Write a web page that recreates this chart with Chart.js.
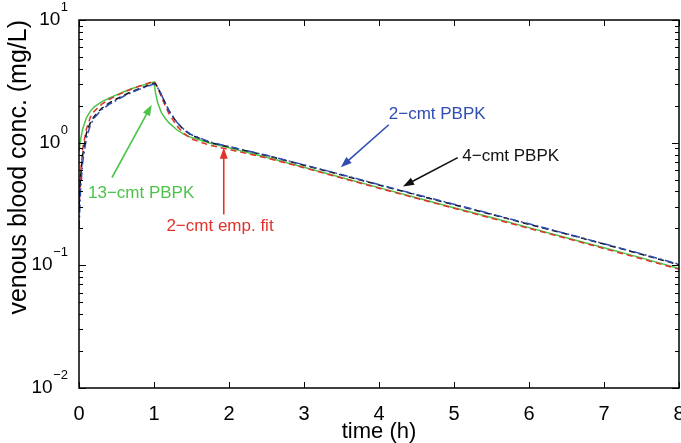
<!DOCTYPE html>
<html>
<head>
<meta charset="utf-8">
<script src="https://cdn.jsdelivr.net/npm/chart.js@4.4.1/dist/chart.umd.min.js"></script>
<style>
  html, body { margin: 0; padding: 0; background: #fff; }
</style>
</head>
<body>
<canvas id="conc" width="681" height="443"></canvas>
<script>
// time points (h)
const times = [0, 0.02, 0.05, 0.1, 0.15, 0.2, 0.3, 0.4, 0.5, 0.6, 0.7, 0.8, 0.9, 1.0,
    1.02, 1.05, 1.1, 1.15, 1.2, 1.3, 1.4, 1.5, 1.75, 2, 2.5, 3, 3.5, 4, 4.5, 5, 5.5, 6, 6.5, 7, 7.5, 8];

// venous blood conc. (mg/L)
const cmt13 = [0.85, 1.05, 1.3, 1.6, 1.8, 1.95, 2.15, 2.3, 2.45, 2.6, 2.75, 2.88, 3.0, 3.12,
    2.55, 2.1, 1.75, 1.58, 1.45, 1.28, 1.17, 1.1, 0.99, 0.91, 0.76, 0.63, 0.52, 0.43, 0.355, 0.295, 0.245, 0.203, 0.168, 0.139, 0.115, 0.094];
const empFit = [0.28, 0.55, 0.9, 1.3, 1.6, 1.8, 2.05, 2.25, 2.42, 2.58, 2.74, 2.88, 3.02, 3.18,
    3.05, 2.8, 2.35, 2.0, 1.72, 1.38, 1.19, 1.07, 0.95, 0.88, 0.75, 0.625, 0.515, 0.425, 0.352, 0.292, 0.242, 0.2, 0.166, 0.137, 0.113, 0.093];
const cmt2 = [0.2, 0.4, 0.7, 1.1, 1.38, 1.58, 1.85, 2.05, 2.22, 2.4, 2.56, 2.72, 2.86, 3.0,
    2.95, 2.8, 2.45, 2.1, 1.82, 1.48, 1.28, 1.16, 1.01, 0.93, 0.79, 0.66, 0.55, 0.455, 0.378, 0.315, 0.262, 0.218, 0.181, 0.15, 0.124, 0.102];
const cmt4 = [0.3, 0.52, 0.8, 1.2, 1.45, 1.63, 1.9, 2.1, 2.27, 2.44, 2.6, 2.75, 2.9, 3.05,
    3.0, 2.82, 2.45, 2.1, 1.82, 1.47, 1.27, 1.15, 1.0, 0.925, 0.785, 0.655, 0.545, 0.452, 0.375, 0.312, 0.26, 0.216, 0.18, 0.149, 0.123, 0.101];

// y ticks are powers of ten: base + exponent
const yTickValues = [0.01, 0.1, 1, 10];
const yTickExps = ['\u22122', '\u22121', '0', '1'];
const seriesNames = ['13\u2212cmt PBPK', '2\u2212cmt emp. fit', '2\u2212cmt PBPK', '4\u2212cmt PBPK'];

const FONT = '"Liberation Sans", Arial, Helvetica, sans-serif';
const GREEN = '#4cc44a', RED = '#e2332b', BLUE = '#2f4db3', BLACK = '#111111';

const pts = vals => vals.map((v, i) => ({ x: times[i], y: v }));

// annotation text + arrows, placed in data units
const notes = [
    { text: seriesNames[0], color: GREEN, tx: 0.12, ty: 0.39, align: 'left', from: [0.44, 0.52], to: [0.97, 2.04] },
    { text: seriesNames[1], color: RED, tx: 1.88, ty: 0.207, align: 'center', from: [1.93, 0.26], to: [1.93, 0.91] },
    { text: seriesNames[2], color: BLUE, tx: 4.13, ty: 1.69, align: 'left', from: [4.13, 1.4], to: [3.49, 0.63] },
    { text: seriesNames[3], color: BLACK, tx: 5.11, ty: 0.77, align: 'left', from: [5.05, 0.755], to: [4.32, 0.44] }
];

const framePlugin = {
    id: 'frame',
    afterDatasetsDraw(chart) {
        const ctx = chart.ctx;
        const { left, right, top, bottom } = chart.chartArea;
        const xs = chart.scales.x, ys = chart.scales.y;
        ctx.save();
        ctx.strokeStyle = '#000';
        ctx.lineWidth = 1.5;
        ctx.strokeRect(left, top, right - left, bottom - top);
        ctx.lineWidth = 1;
        ctx.beginPath();
        for (let t = 0; t <= 8; t++) {
            const px = Math.round(xs.getPixelForValue(t)) + 0.5;
            ctx.moveTo(px, bottom); ctx.lineTo(px, bottom - 6);
            ctx.moveTo(px, top); ctx.lineTo(px, top + 6);
        }
        for (let e = -2; e <= 1; e++) {
            for (let m = 1; m <= 9; m++) {
                const v = m * Math.pow(10, e);
                if (v > 10.0001) break;
                const py = Math.round(ys.getPixelForValue(v)) + 0.5;
                const len = m === 1 ? 7 : 4;
                ctx.moveTo(left, py); ctx.lineTo(left + len, py);
                ctx.moveTo(right, py); ctx.lineTo(right - len, py);
            }
        }
        ctx.stroke();

        // y tick labels 10^n with a raised exponent
        ctx.fillStyle = '#000';
        ctx.textBaseline = 'alphabetic';
        ctx.textAlign = 'right';
        yTickValues.forEach((v, i) => {
            const py = ys.getPixelForValue(v);
            const xr = left - 11;
            ctx.font = '13px ' + FONT;
            const ew = ctx.measureText(yTickExps[i]).width;
            ctx.fillText(yTickExps[i], xr, py - 9);
            ctx.font = '19px ' + FONT;
            ctx.fillText('10', xr - ew - 0.5, py + 5);
        });

        // annotations
        ctx.font = '17px ' + FONT;
        ctx.textBaseline = 'middle';
        notes.forEach(n => {
            ctx.fillStyle = n.color;
            ctx.strokeStyle = n.color;
            ctx.textAlign = n.align;
            ctx.fillText(n.text, xs.getPixelForValue(n.tx), ys.getPixelForValue(n.ty));
            const x0 = xs.getPixelForValue(n.from[0]), y0 = ys.getPixelForValue(n.from[1]);
            const x1 = xs.getPixelForValue(n.to[0]), y1 = ys.getPixelForValue(n.to[1]);
            const a = Math.atan2(y1 - y0, x1 - x0);
            const hl = 11, hw = 4;
            ctx.lineWidth = 1.6;
            ctx.beginPath();
            ctx.moveTo(x0, y0);
            ctx.lineTo(x1 - Math.cos(a) * hl * 0.8, y1 - Math.sin(a) * hl * 0.8);
            ctx.stroke();
            ctx.beginPath();
            ctx.moveTo(x1, y1);
            ctx.lineTo(x1 - Math.cos(a) * hl - Math.sin(a) * hw, y1 - Math.sin(a) * hl + Math.cos(a) * hw);
            ctx.lineTo(x1 - Math.cos(a) * hl + Math.sin(a) * hw, y1 - Math.sin(a) * hl - Math.cos(a) * hw);
            ctx.closePath();
            ctx.fill();
        });
        ctx.restore();
    }
};

const lineSet = (label, vals, color, dash) => ({
    label: label,
    data: pts(vals),
    borderColor: color,
    borderWidth: 1.5,
    borderDash: dash,
    pointRadius: 0,
    fill: false,
    tension: 0
});

new Chart(
    document.getElementById('conc'),
    {
        type: 'line',
        data: {
            datasets: [
                lineSet(seriesNames[2], cmt2, BLUE, [8, 3, 2, 3]),
                lineSet(seriesNames[3], cmt4, BLACK, [6, 4]),
                lineSet(seriesNames[1], empFit, RED, [6, 4]),
                lineSet(seriesNames[0], cmt13, GREEN, [])
            ]
        },
        options: {
            responsive: false,
            animation: false,
            devicePixelRatio: 1,
            layout: { padding: { top: 20, right: 2, left: 0, bottom: 0 } },
            plugins: {
                legend: { display: false },
                tooltip: { enabled: false }
            },
            scales: {
                x: {
                    type: 'linear',
                    min: 0,
                    max: 8,
                    grid: { display: false },
                    border: { display: false },
                    ticks: {
                        stepSize: 1,
                        padding: 6,
                        color: '#000',
                        font: { family: FONT, size: 20 },
                        maxRotation: 0
                    },
                    title: {
                        display: true,
                        text: 'time (h)',
                        color: '#000',
                        font: { family: FONT, size: 22, lineHeight: 1 },
                        padding: { top: 0, bottom: 0 }
                    },
                    afterFit(scale) {
                        scale.height = 55;
                        scale.paddingLeft = 0;
                        scale.paddingRight = 0;
                    }
                },
                y: {
                    type: 'logarithmic',
                    min: 0.01,
                    max: 10,
                    grid: { display: false },
                    border: { display: false },
                    afterBuildTicks(scale) {
                        scale.ticks = yTickValues.map(v => ({ value: v }));
                    },
                    ticks: { display: false },
                    title: {
                        display: true,
                        text: 'venous blood conc. (mg/L)',
                        align: 'end',
                        color: '#000',
                        font: { family: FONT, size: 25, lineHeight: 1 },
                        padding: { top: 7, bottom: 0 }
                    },
                    afterFit(scale) {
                        scale.width = 79;
                        scale.paddingTop = 0;
                        scale.paddingBottom = 0;
                    }
                }
            }
        },
        plugins: [framePlugin]
    }
);
</script>
</body>
</html>
